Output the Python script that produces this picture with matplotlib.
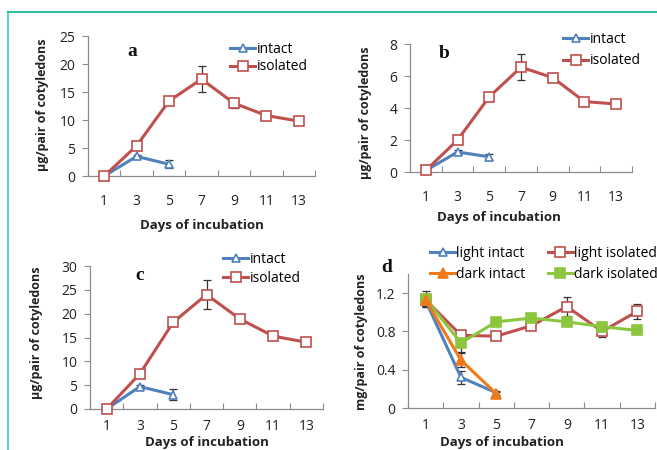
import numpy as np
import matplotlib
matplotlib.use('Agg')
from matplotlib import pyplot as plt
from matplotlib.lines import Line2D

days = ['1', '3', '5', '7', '9', '11', '13']

# panel a
a_isolated = [0, 5.4, 13.4, 17.3, 13.0, 10.8, 9.8]
a_isolated_err = [0, 0.3, 0.3, 2.3, 0.9, 0.3, 0.3]
a_intact = [0, 3.5, 2.1]
a_intact_err = [0, 0.3, 0.7]

# panel b
b_isolated = [0.1, 2.0, 4.7, 6.55, 5.9, 4.4, 4.25]
b_isolated_err = [0, 0.1, 0.1, 0.8, 0.1, 0.1, 0.1]
b_intact = [0.1, 1.25, 0.95]
b_intact_err = [0, 0.1, 0.2]

# panel c
c_isolated = [0, 7.4, 18.2, 24.0, 18.9, 15.3, 14.0]
c_isolated_err = [0, 0.4, 0.4, 3.1, 0.7, 0.4, 0.4]
c_intact = [0, 4.7, 3.0]
c_intact_err = [0, 0.4, 1.1]

# panel d
d_light_intact = [1.12, 0.32, 0.16]
d_light_intact_err = [0.06, 0.07, 0.02]
d_dark_intact = [1.13, 0.50, 0.15]
d_dark_intact_err = [0.06, 0.07, 0.02]
d_light_isolated = [1.13, 0.76, 0.75, 0.86, 1.06, 0.80, 1.01]
d_light_isolated_err = [0.06, 0.02, 0.02, 0.02, 0.10, 0.06, 0.08]
d_dark_isolated = [1.14, 0.68, 0.90, 0.94, 0.90, 0.85, 0.81]
d_dark_isolated_err = [0.08, 0.09, 0.02, 0.02, 0.02, 0.05, 0.02]

BLUE = '#4f81bd'
RED = '#c0504d'
ORANGE = '#f07a1a'
GREEN = '#8cc63f'
AXC = '#8c8c8c'
TXT = '#222222'

plt.rcParams['font.family'] = ['Open Sans', 'DejaVu Sans']

W, H = 657, 450
fig = plt.figure(figsize=(W / 100, H / 100), dpi=100)


def px_axes(l, t, r, b):
    return fig.add_axes([l / W, 1 - b / H, (r - l) / W, (b - t) / H])


def setup(ax, ymax, yticks, ylabels, xpad=13):
    ax.set_xlim(-0.5, 6.5)
    ax.set_ylim(0, ymax)
    ax.set_xticks(range(len(days)))
    ax.set_xticklabels(days)
    ax.set_xticks(np.arange(-0.5, 7, 1), minor=True)
    ax.set_yticks(yticks)
    ax.set_yticklabels(ylabels)
    ax.tick_params(axis='x', which='major', length=0, pad=xpad,
                   labelsize=10, labelcolor=TXT)
    ax.tick_params(axis='x', which='minor', direction='in', length=4,
                   color=AXC, width=0.8)
    ax.tick_params(axis='y', direction='out', length=4, color=AXC,
                   width=0.8, pad=5, labelsize=10, labelcolor=TXT)
    for s in ['top', 'right']:
        ax.spines[s].set_visible(False)
    for s in ['left', 'bottom']:
        ax.spines[s].set_color(AXC)
        ax.spines[s].set_linewidth(0.9)
    ax.patch.set_alpha(0)


def series(ax, y, err, color, marker, filled, ms):
    x = np.arange(len(y))
    ax.errorbar(x, y, yerr=err, fmt='none', ecolor='#333333',
                elinewidth=0.9, capsize=3, capthick=0.9, zorder=2)
    ax.plot(x, y, color=color, lw=2.2, marker=marker, ms=ms,
            mfc=color if filled else 'white', mec=color, mew=1.2,
            zorder=3, clip_on=False)


def handle(color, marker, filled, ms):
    return Line2D([], [], color=color, lw=2.2, marker=marker, ms=ms,
                  mfc=color if filled else 'white', mec=color, mew=1.2)


def two_legend(ax, x, y, spacing):
    hs = [handle(BLUE, '^', False, 6), handle(RED, 's', False, 7)]
    ax.legend(hs, ['intact', 'isolated'], loc='center left',
              bbox_to_anchor=(x / W, 1 - y / H), bbox_transform=fig.transFigure,
              frameon=False, fontsize=10, handlelength=1.8, handletextpad=0.1,
              labelspacing=spacing, borderpad=0, borderaxespad=0)


ylab_kw = dict(rotation=90, ha='center', va='center', fontsize=9,
               fontweight='bold', color=TXT)
xlab_kw = dict(ha='center', va='center', fontsize=9.5,
               fontweight='bold', color=TXT)
xlab_low_kw = dict(ha='center', va='bottom', fontsize=9.5,
                   fontweight='bold', color=TXT)
letter_kw = dict(ha='center', va='center', fontsize=14, fontweight='bold',
                 family='Liberation Serif', color='#111111')

# a
ax = px_axes(88, 36, 315, 176)
setup(ax, 25, range(0, 26, 5), [str(v) for v in range(0, 26, 5)])
series(ax, a_intact, a_intact_err, BLUE, '^', False, 6)
series(ax, a_isolated, a_isolated_err, RED, 's', False, 7)
two_legend(ax, 230, 58, 0.2)
fig.text(132 / W, 1 - 51 / H, 'a', **letter_kw)
fig.text(43 / W, 1 - 105 / H, 'μg/pair of cotyledons', **ylab_kw)
fig.text(202 / W, 1 - 226 / H, 'Days of incubation', **xlab_kw)

# b
ax = px_axes(410, 44, 632, 172)
setup(ax, 8, range(0, 9, 2), [str(v) for v in range(0, 9, 2)])
series(ax, b_intact, b_intact_err, BLUE, '^', False, 6)
series(ax, b_isolated, b_isolated_err, RED, 's', False, 7)
two_legend(ax, 563, 50, 0.5)
fig.text(444 / W, 1 - 53 / H, 'b', **letter_kw)
fig.text(366 / W, 1 - 113 / H, 'μg/pair of cotyledons', **ylab_kw)
fig.text(499 / W, 1 - 218 / H, 'Days of incubation', **xlab_kw)

# c
ax = px_axes(90, 266, 323, 409)
setup(ax, 30, range(0, 31, 5), [str(v) for v in range(0, 31, 5)], xpad=7)
series(ax, c_intact, c_intact_err, BLUE, '^', False, 6)
series(ax, c_isolated, c_isolated_err, RED, 's', False, 7)
two_legend(ax, 223, 269, 0.25)
fig.text(140 / W, 1 - 275 / H, 'c', **letter_kw)
fig.text(37 / W, 1 - 333 / H, 'μg/pair of cotyledons', **ylab_kw)
fig.text(207 / W, 1 - 449 / H, 'Days of incubation', **xlab_low_kw)

# d
ax = px_axes(408, 274, 655, 408)
setup(ax, 1.4, [0, 0.4, 0.8, 1.2], ['0', '0.4', '0.8', '1.2'], xpad=7)
series(ax, d_light_intact, d_light_intact_err, BLUE, '^', False, 6)
series(ax, d_light_isolated, d_light_isolated_err, RED, 's', False, 7)
series(ax, d_dark_isolated, d_dark_isolated_err, GREEN, 's', True, 7)
series(ax, d_dark_intact, d_dark_intact_err, ORANGE, '^', True, 7)
hs = [handle(BLUE, '^', False, 6), handle(ORANGE, '^', True, 7),
      handle(RED, 's', False, 7), handle(GREEN, 's', True, 7)]
ax.legend(hs, ['light intact', 'dark intact', 'light isolated', 'dark isolated'],
          ncol=2, loc='center left', bbox_to_anchor=(430 / W, 1 - 264 / H),
          bbox_transform=fig.transFigure, frameon=False, fontsize=10,
          handlelength=1.8, handletextpad=0.1, labelspacing=0.45,
          columnspacing=1.6, borderpad=0, borderaxespad=0)
fig.text(387 / W, 1 - 267 / H, 'd', **letter_kw)
fig.text(362 / W, 1 - 342 / H, 'mg/pair of cotyledons', **ylab_kw)
fig.text(502 / W, 1 - 449 / H, 'Days of incubation', **xlab_low_kw)

# teal frame around the figure
fig.add_artist(Line2D([8 / W, 8 / W], [0, 1 - 12 / H], color='#5fd0bb',
                      lw=1.5, transform=fig.transFigure))
fig.add_artist(Line2D([8 / W, 1], [1 - 12 / H, 1 - 12 / H], color='#2fbfa0',
                      lw=1.5, transform=fig.transFigure))

fig.savefig('out.png', dpi=100)
